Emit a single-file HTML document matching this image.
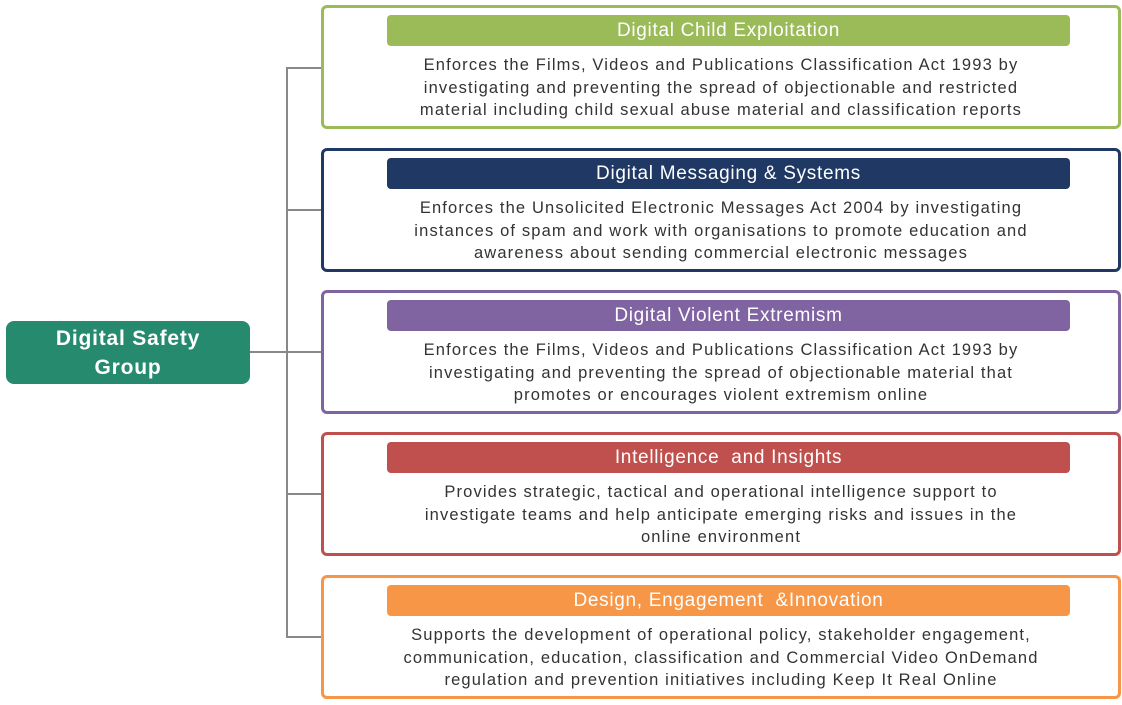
<!DOCTYPE html>
<html><head><style>
body{margin:0;width:1122px;height:705px;background:#fff;position:relative;font-family:"Liberation Sans",sans-serif;overflow:hidden}
.box{position:absolute;left:321px;width:794px;height:118px;border:3px solid;border-radius:6px;background:#fff}
.t{position:absolute;left:63px;width:683px;top:7px;height:31px;border-radius:4px;color:#fff;font-size:19px;line-height:31px;text-align:center;letter-spacing:0.7px}
.d{position:absolute;left:0;width:794px;top:46px;text-align:center;color:#333;font-size:16.5px;line-height:22.5px;letter-spacing:1.15px}
.l{position:absolute;background:#888}
</style></head><body>
<div class="l" style="left:286px;top:67px;width:2px;height:571px"></div>
<div class="l" style="left:250px;top:351px;width:71px;height:2px"></div>
<div class="l" style="left:286px;top:67px;width:35px;height:2px"></div>
<div class="l" style="left:286px;top:209px;width:35px;height:2px"></div>
<div class="l" style="left:286px;top:493px;width:35px;height:2px"></div>
<div class="l" style="left:286px;top:636px;width:35px;height:2px"></div>
<div style="position:absolute;left:6px;top:321px;width:244px;height:63px;background:#268A6E;border-radius:8px;color:#fff;font-weight:bold;font-size:21px;line-height:29px;text-align:center;padding-top:3px;box-sizing:border-box;letter-spacing:0.8px">Digital Safety<br>Group</div>

<div class="box" style="top:5px;border-color:#9BBB59"><div class="t" style="background:#9BBB59">Digital Child Exploitation</div><div class="d">Enforces the Films, Videos and Publications Classification Act 1993 by<br>investigating and preventing the spread of objectionable and restricted<br>material including child sexual abuse material and classification reports</div></div>
<div class="box" style="top:148px;border-color:#1F3864"><div class="t" style="background:#1F3864">Digital Messaging &amp; Systems</div><div class="d">Enforces the Unsolicited Electronic Messages Act 2004 by investigating<br>instances of spam and work with organisations to promote education and<br>awareness about sending commercial electronic messages</div></div>
<div class="box" style="top:290px;border-color:#8064A2"><div class="t" style="background:#8064A2">Digital Violent Extremism</div><div class="d">Enforces the Films, Videos and Publications Classification Act 1993 by<br>investigating and preventing the spread of objectionable material that<br>promotes or encourages violent extremism online</div></div>
<div class="box" style="top:432px;border-color:#C0504D"><div class="t" style="background:#C0504D">Intelligence &nbsp;and Insights</div><div class="d">Provides strategic, tactical and operational intelligence support to<br>investigate teams and help anticipate emerging risks and issues in the<br>online environment</div></div>
<div class="box" style="top:575px;border-color:#F79646"><div class="t" style="background:#F79646">Design, Engagement &nbsp;&amp;Innovation</div><div class="d">Supports the development of operational policy, stakeholder engagement,<br>communication, education, classification and Commercial Video OnDemand<br>regulation and prevention initiatives including Keep It Real Online</div></div>
</body></html>
